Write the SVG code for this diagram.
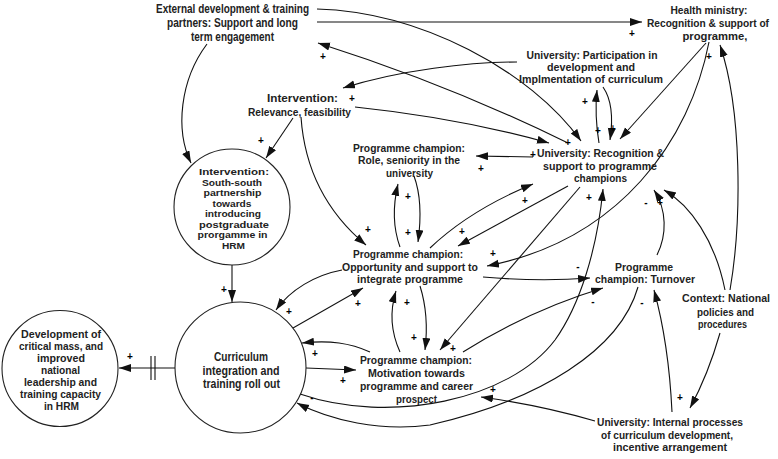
<svg xmlns="http://www.w3.org/2000/svg" width="778" height="459" viewBox="0 0 778 459">
<defs>
<marker id="ah" markerUnits="userSpaceOnUse" markerWidth="13" markerHeight="9" refX="12" refY="4" orient="auto">
<path d="M0,0 L12,4 L0,8 z" fill="#111"/>
</marker>
<style>
.t{font-family:"Liberation Sans",Arial,sans-serif;font-weight:bold;font-size:11px;fill:#222;text-anchor:middle}
.s{font-size:9.3px}
.c{font-size:12.5px}
.e{font-size:12px}
.h{font-size:10.6px}
.p{font-family:"Liberation Sans",Arial,sans-serif;font-weight:bold;font-size:10px;fill:#000;text-anchor:middle}
.l{fill:none;stroke:#111;stroke-width:1.1}
.a{marker-end:url(#ah)}
.n{fill:#fff;stroke:#222;stroke-width:1.1}
</style>
</defs>
<rect width="778" height="459" fill="#fff"/>

<g id="connectors">
<path class="l a" d="M317 22 L642 22"/>
<path class="l a" d="M317 9 C420 12 530 70 581 141"/>
<path class="l a" d="M568 143 Q450 85 318 43"/>
<path class="l a" d="M517 62 C470 62 400 70 343 88"/>
<path class="l a" d="M355 107 Q460 118 549 143"/>
<path class="l a" d="M293 118 L266 158"/>
<path class="l a" d="M207 44 C180 80 175 130 191 163"/>
<path class="l a" d="M301 117 C305 175 330 215 366 245"/>
<path class="l a" d="M533 157 L476 156"/>
<path class="l a" d="M400 247 C392 225 393 205 398 184"/>
<path class="l a" d="M414 176 C421 195 421 220 418 242"/>
<path class="l a" d="M400 352 C390 330 390 310 396 291"/>
<path class="l a" d="M420 286 C426 305 428 325 425 350"/>
<path class="l a" d="M293 328 L363 288"/>
<path class="l a" d="M342 270 C315 275 290 290 276 310"/>
<path class="l a" d="M370 352 C350 343 330 340 302 343"/>
<path class="l a" d="M306 368 L356 370"/>
<path class="l a" d="M568 186 L458 246"/>
<path class="l a" d="M430 248 Q470 210 533 184"/>
<path class="l a" d="M580 187 L440 350"/>
<path class="l a" d="M483 277 Q540 282 590 278"/>
<path class="l a" d="M463 352 Q530 310 603 288"/>
<path class="l a" d="M657 255 C667 235 667 210 654 190"/>
<path class="l a" d="M725 290 C715 240 690 205 664 190"/>
<path class="l a" d="M730 290 C742 220 742 110 720 45"/>
<path class="l a" d="M709 42 C690 140 620 240 487 266"/>
<path class="l a" d="M706 43 L620 139"/>
<path class="l a" d="M599 143 C596 125 595 110 597 90"/>
<path class="l a" d="M603 87 C612 100 613 120 610 140"/>
<path class="l a" d="M300 394 C390 425 510 400 555 340 C580 305 597 250 603 189"/>
<path class="l a" d="M638 287 C620 350 540 400 430 425 C380 432 330 420 297 403"/>
<path class="l a" d="M595 421 Q540 405 481 397"/>
<path class="l a" d="M672 412 C670 370 665 330 654 290"/>
<path class="l a" d="M720 333 Q708 375 690 408"/>
<path class="l a" d="M175 368 L119 368"/>
<path class="l a" d="M232 265 L232 302"/>
<path class="l" d="M151 356 L151 380 M155 356 L155 380"/>
<g id="polarities">
<text class="p" x="632" y="37">+</text>
<text class="p" x="323" y="60">+</text>
<text class="p" x="352" y="102">+</text>
<text class="p" x="261" y="144">+</text>
<text class="p" x="585" y="105">+</text>
<text class="p" x="598" y="134">+</text>
<text class="p" x="613" y="132">+</text>
<text class="p" x="568" y="146">+</text>
<text class="p" x="533" y="158">+</text>
<text class="p" x="481" y="172">+</text>
<text class="p" x="709" y="60">+</text>
<text class="p" x="408" y="200">+</text>
<text class="p" x="408" y="236">+</text>
<text class="p" x="368" y="233">+</text>
<text class="p" x="525" y="204">+</text>
<text class="p" x="462" y="235">+</text>
<text class="p" x="589" y="201">+</text>
<text class="p" x="646" y="206">-</text>
<text class="p" x="660" y="206">+</text>
<text class="p" x="493" y="257">+</text>
<text class="p" x="578" y="270">-</text>
<text class="p" x="358" y="307">+</text>
<text class="p" x="289" y="315">+</text>
<text class="p" x="407" y="306">+</text>
<text class="p" x="414" y="341">+</text>
<text class="p" x="315" y="357">+</text>
<text class="p" x="343" y="384">+</text>
<text class="p" x="453" y="352">+</text>
<text class="p" x="593" y="305">-</text>
<text class="p" x="642" y="306">-</text>
<text class="p" x="493" y="393">+</text>
<text class="p" x="680" y="401">+</text>
<text class="p" x="312" y="401">-</text>
<text class="p" x="224" y="293">+</text>
<text class="p" x="130" y="360">+</text>
</g>
</g>

<g id="external">
<text class="t e" x="232.5" y="13" textLength="153" lengthAdjust="spacingAndGlyphs">External development &amp; training</text>
<text class="t e" x="232.5" y="27" textLength="131" lengthAdjust="spacingAndGlyphs">partners: Support and long</text>
<text class="t e" x="232.5" y="41" textLength="83" lengthAdjust="spacingAndGlyphs">term engagement</text>
</g>
<g id="health-ministry">
<text class="t" x="709" y="14" textLength="77" lengthAdjust="spacingAndGlyphs">Health ministry:</text>
<text class="t h" x="708" y="27" textLength="122" lengthAdjust="spacingAndGlyphs">Recognition &amp; support of</text>
<text class="t" x="715" y="40" textLength="65" lengthAdjust="spacingAndGlyphs">programme,</text>
</g>
<g id="univ-participation">
<text class="t" x="592" y="59" textLength="131" lengthAdjust="spacingAndGlyphs">University: Participation in</text>
<text class="t" x="591" y="71" textLength="88" lengthAdjust="spacingAndGlyphs">development and</text>
<text class="t" x="591" y="83" textLength="144" lengthAdjust="spacingAndGlyphs">Implmentation of curriculum</text>
</g>
<g id="relevance">
<text class="t" x="302.5" y="102" textLength="71" lengthAdjust="spacingAndGlyphs">Intervention:</text>
<text class="t" x="299.5" y="116" textLength="103" lengthAdjust="spacingAndGlyphs">Relevance, feasibility</text>
</g>
<g id="univ-recognition">
<text class="t" x="600.5" y="157" textLength="127" lengthAdjust="spacingAndGlyphs">University: Recognition &amp;</text>
<text class="t" x="600" y="170" textLength="114" lengthAdjust="spacingAndGlyphs">support to programme</text>
<text class="t" x="600.5" y="182" textLength="53" lengthAdjust="spacingAndGlyphs">champions</text>
</g>
<g id="champion-role">
<text class="t" x="409" y="152" textLength="112" lengthAdjust="spacingAndGlyphs">Programme champion:</text>
<text class="t" x="409" y="164" textLength="102" lengthAdjust="spacingAndGlyphs">Role, seniority in the</text>
<text class="t" x="409.5" y="177" textLength="47" lengthAdjust="spacingAndGlyphs">university</text>
</g>
<g id="champion-opportunity">
<text class="t" x="408" y="258" textLength="110" lengthAdjust="spacingAndGlyphs">Programme champion:</text>
<text class="t" x="410" y="271" textLength="136" lengthAdjust="spacingAndGlyphs">Opportunity and support to</text>
<text class="t" x="410" y="283" textLength="106" lengthAdjust="spacingAndGlyphs">integrate programme</text>
</g>
<g id="champion-motivation">
<text class="t" x="416" y="364" textLength="112" lengthAdjust="spacingAndGlyphs">Programme champion:</text>
<text class="t" x="416.5" y="377" textLength="97" lengthAdjust="spacingAndGlyphs">Motivation towards</text>
<text class="t" x="416.5" y="390" textLength="113" lengthAdjust="spacingAndGlyphs">programme and career</text>
<text class="t" x="416.5" y="403" textLength="41" lengthAdjust="spacingAndGlyphs">prospect</text>
</g>
<g id="champion-turnover">
<text class="t" x="644" y="271" textLength="58" lengthAdjust="spacingAndGlyphs">Programme</text>
<text class="t" x="645" y="283" textLength="100" lengthAdjust="spacingAndGlyphs">champion: Turnover</text>
</g>
<g id="context">
<text class="t" x="726" y="302" textLength="88" lengthAdjust="spacingAndGlyphs">Context: National</text>
<text class="t" x="725.5" y="316" textLength="57" lengthAdjust="spacingAndGlyphs">policies and</text>
<text class="t" x="722.5" y="328" textLength="49" lengthAdjust="spacingAndGlyphs">procedures</text>
</g>
<g id="univ-internal">
<text class="t" x="670" y="426" textLength="146" lengthAdjust="spacingAndGlyphs">University: Internal processes</text>
<text class="t" x="667" y="439" textLength="132" lengthAdjust="spacingAndGlyphs">of curriculum development,</text>
<text class="t" x="670" y="451" textLength="114" lengthAdjust="spacingAndGlyphs">incentive arrangement</text>
</g>
<g id="south-south">
<circle class="n" cx="232" cy="207" r="58"/>
<text class="t s" x="234" y="175" textLength="70" lengthAdjust="spacingAndGlyphs">Intervention:</text>
<text class="t s" x="232" y="185.5" textLength="60" lengthAdjust="spacingAndGlyphs">South-south</text>
<text class="t s" x="232.5" y="196" textLength="58" lengthAdjust="spacingAndGlyphs">partnership</text>
<text class="t s" x="232" y="206.5" textLength="39" lengthAdjust="spacingAndGlyphs">towards</text>
<text class="t s" x="233" y="217" textLength="56" lengthAdjust="spacingAndGlyphs">introducing</text>
<text class="t s" x="234" y="227.5" textLength="70" lengthAdjust="spacingAndGlyphs">postgraduate</text>
<text class="t s" x="232.5" y="238" textLength="70" lengthAdjust="spacingAndGlyphs">prorgamme in</text>
<text class="t s" x="233.5" y="248.5" textLength="23" lengthAdjust="spacingAndGlyphs">HRM</text>
</g>
<g id="curriculum">
<circle class="n" cx="240.5" cy="367.5" r="65.5"/>
<text class="t c" x="241" y="360.5" textLength="54" lengthAdjust="spacingAndGlyphs">Curriculum</text>
<text class="t c" x="241" y="374.5" textLength="77" lengthAdjust="spacingAndGlyphs">integration and</text>
<text class="t c" x="241.5" y="387.5" textLength="77" lengthAdjust="spacingAndGlyphs">training roll out</text>
</g>
<g id="critical-mass">
<circle class="n" cx="60" cy="368.5" r="58"/>
<text class="t" x="61" y="338" textLength="80" lengthAdjust="spacingAndGlyphs">Development of</text>
<text class="t" x="61" y="350" textLength="84" lengthAdjust="spacingAndGlyphs">critical mass, and</text>
<text class="t" x="61" y="362" textLength="48" lengthAdjust="spacingAndGlyphs">improved</text>
<text class="t" x="60.5" y="374" textLength="39" lengthAdjust="spacingAndGlyphs">national</text>
<text class="t" x="60.5" y="386" textLength="73" lengthAdjust="spacingAndGlyphs">leadership and</text>
<text class="t" x="60.5" y="398" textLength="81" lengthAdjust="spacingAndGlyphs">training capacity</text>
<text class="t" x="61.5" y="410" textLength="35" lengthAdjust="spacingAndGlyphs">in HRM</text>
</g>
</svg>
